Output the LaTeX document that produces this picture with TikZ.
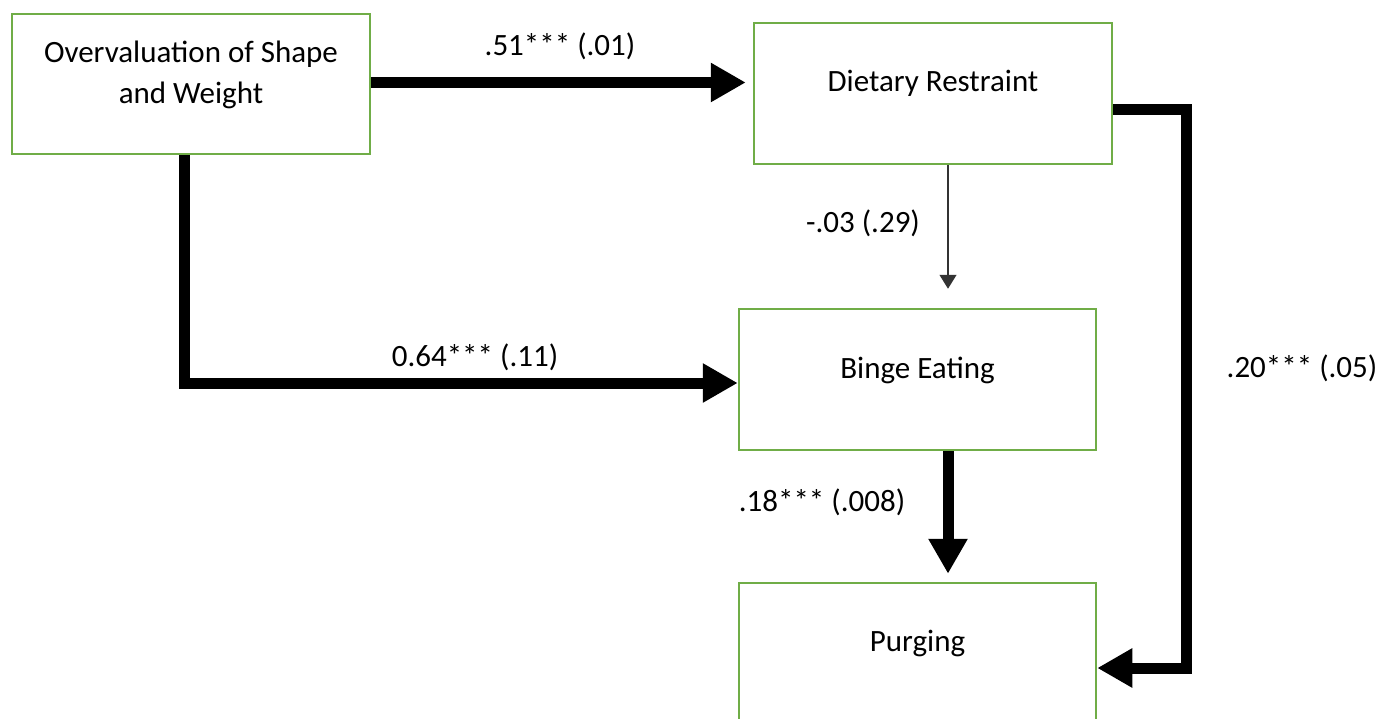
\documentclass[tikz,border=0pt]{standalone}
\usepackage{fontspec}
\setmainfont{Carlito}
\usetikzlibrary{arrows.meta,calc}
\definecolor{boxgreen}{RGB}{112,173,71}
\begin{document}
\begin{tikzpicture}[x=1pt,y=-1pt,
  box/.style={draw=boxgreen, line width=2.5pt, fill=white, inner sep=0pt,
    minimum width=357pt, minimum height=141pt},
  txt/.style={font=\fontsize{31}{41}\selectfont, inner sep=0pt, anchor=base},
  lbl/.style={font=\fontsize{31}{41}\selectfont, inner sep=0pt, anchor=base},
  bigarrow/.style={line width=11pt, line join=miter, -{Triangle[length=35pt,width=37pt]}},
  thinarrow/.style={line width=1.3pt, draw=black!80, -{Triangle[length=14pt,width=17pt]}}]
\useasboundingbox (0,0) rectangle (1383,719);
\clip (0,0) rectangle (1383,719);
\fill[white] (0,0) rectangle (1383,719);

% boxes
\node[box, minimum width=358pt, minimum height=140pt] (A) at (191,84) {};
\node[box, minimum width=358pt] (B) at (933,93.5) {};
\node[box] (C) at (917.5,379.5) {};
\node[box] (D) at (917.5,653.5) {};

% box texts
\node[txt] (A1) at (191,63) {Overvaluation of Shape};
\node[txt] (A2) at (191,104) {and Weight};
\node[txt] (Bt) at (933,92) {Dietary Restraint};
\node[txt] (Ct) at (917.5,378) {Binge Eating};
\node[txt] (Dt) at (917.5,651) {Purging};

% connectors
\draw[bigarrow, shorten >=7pt] ([yshift=1.5pt]A.east) -- ([yshift=1.5pt]A.east -| B.west);
\draw[bigarrow] ([xshift=-7pt]A.south) |- ([yshift=-3.5pt]C.west);
\draw[thinarrow, shorten >=19pt] ([xshift=15pt]B.south) -- ([xshift=30.5pt]C.north);
\draw[bigarrow, shorten >=8pt] ([xshift=30.5pt]C.south) -- ([xshift=30.5pt]D.north);
\coordinate (bend) at (1186,110);
\draw[bigarrow] ([yshift=-16.5pt]B.east) -- (bend) |- ([yshift=-14.5pt]D.east);

% labels
\node[lbl] (L1) at (560,56) {.51*** (.01)};
\node[lbl] (L2) at (475,366) {0.64*** (.11)};
\node[lbl] (L3) at (863,233) {-.03 (.29)};
\node[lbl] (L4) at (822,511) {.18*** (.008)};
\node[lbl] (L5) at (1302,377) {.20*** (.05)};
\end{tikzpicture}
\end{document}
